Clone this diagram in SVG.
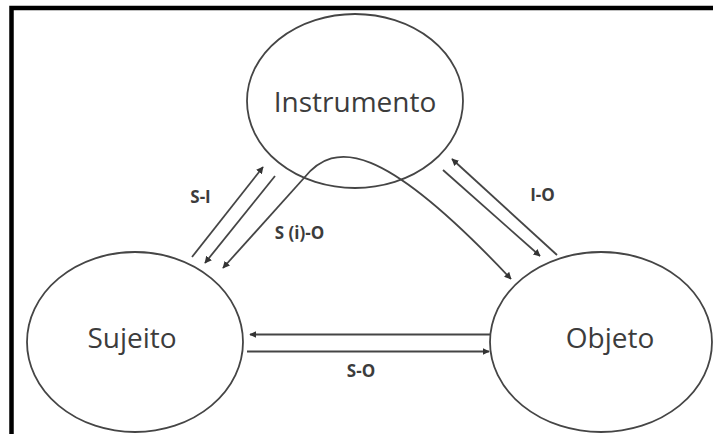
<svg xmlns="http://www.w3.org/2000/svg" width="713" height="434" viewBox="0 0 713 434">
<style>
.node{fill:none;stroke:#454545;stroke-width:1.8}
.lbl{font-family:"Open Sans","Liberation Sans",sans-serif;font-size:28px;fill:#3c3c3c;text-anchor:middle}
.elbl{font-family:"Open Sans","Liberation Sans",sans-serif;font-size:17px;font-weight:700;fill:#3c3c3c;text-anchor:middle}
.edge{fill:none;stroke:#454545;stroke-width:1.8}
</style>
<defs>
<marker id="ah" viewBox="0 0 10 10" refX="9" refY="5" markerWidth="4" markerHeight="4" orient="auto" markerUnits="strokeWidth">
<path d="M0,0 L10,5 L0,10 z" fill="#333"/>
</marker>
</defs>
<rect width="713" height="434" fill="#fff"/>
<path d="M11.5,434 V8 H713" fill="none" stroke="#000" stroke-width="4.5"/>
<g id="instrumento">
<ellipse class="node" cx="355" cy="101" rx="108" ry="87"/>
<text class="lbl" x="355" y="112">Instrumento</text>
</g>
<g id="sujeito">
<ellipse class="node" cx="135" cy="342" rx="108" ry="90"/>
<text class="lbl" x="132" y="348">Sujeito</text>
</g>
<g id="objeto">
<ellipse class="node" cx="601" cy="342" rx="111" ry="90"/>
<text class="lbl" x="610" y="348">Objeto</text>
</g>
<g id="connectors">
<line class="edge" x1="192" y1="257" x2="263" y2="167" marker-end="url(#ah)"/>
<line class="edge" x1="275" y1="176" x2="205" y2="263" marker-end="url(#ah)"/>
<line class="edge" x1="304" y1="178" x2="223" y2="268" marker-end="url(#ah)"/>
<path class="edge" d="M304,178 C335,140 382,142 511,279" marker-end="url(#ah)"/>
<line class="edge" x1="557" y1="255" x2="452" y2="159" marker-end="url(#ah)"/>
<line class="edge" x1="443" y1="170" x2="540" y2="256" marker-end="url(#ah)"/>
<line class="edge" x1="490" y1="334.5" x2="250" y2="334.5" marker-end="url(#ah)"/>
<line class="edge" x1="247" y1="351.5" x2="489" y2="351.5" marker-end="url(#ah)"/>
</g>
<g id="labels">
<text class="elbl" x="200.5" y="203">S-I</text>
<text class="elbl" x="299.5" y="239">S (i)-O</text>
<text class="elbl" x="542.5" y="201">I-O</text>
<text class="elbl" x="361" y="377">S-O</text>
</g>
</svg>
